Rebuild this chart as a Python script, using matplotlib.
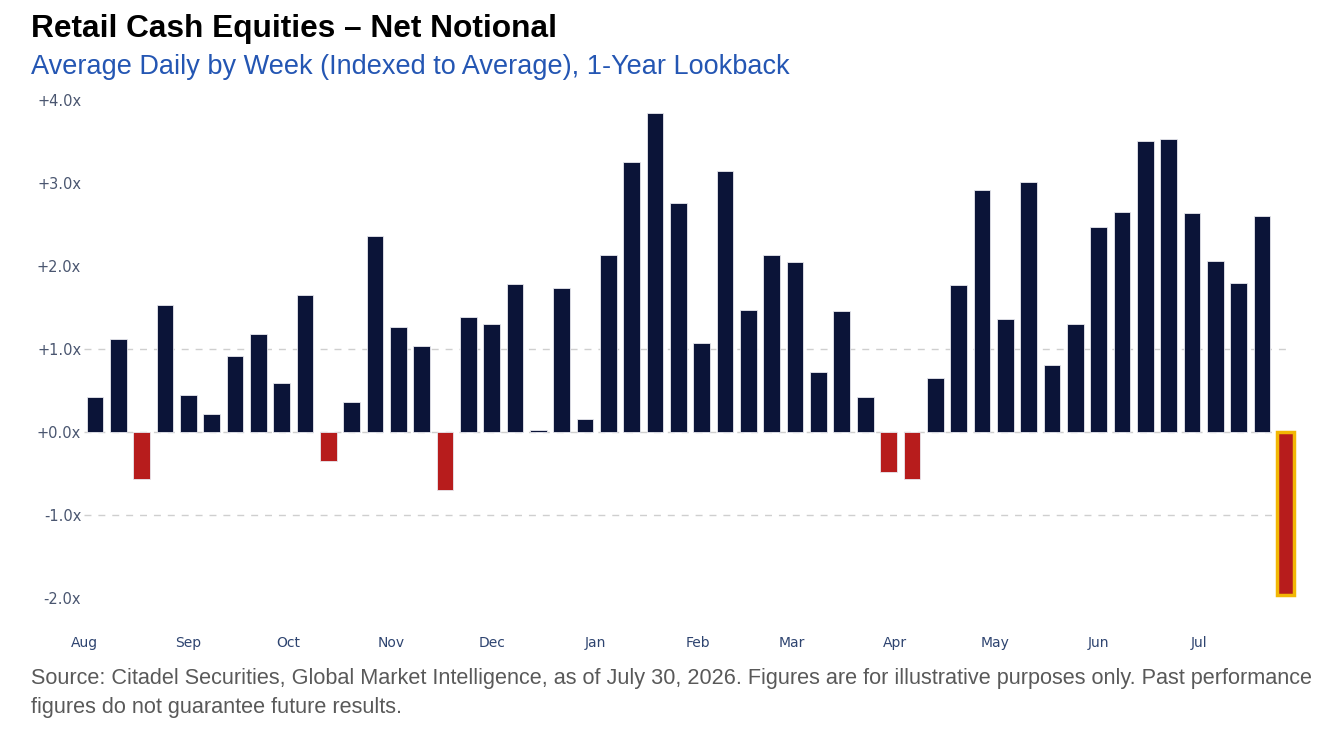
import matplotlib
matplotlib.use("Agg")
import matplotlib.pyplot as plt
import pandas as pd

# weekly values, indexed to average
values = [0.43, 1.12, -0.56, 1.53, 0.45, 0.22, 0.92, 1.18, 0.59, 1.65,
          -0.35, 0.36, 2.36, 1.27, 1.04, -0.70, 1.39, 1.31, 1.78, 0.03,
          1.74, 0.16, 2.13, 3.26, 3.85, 2.76, 1.08, 3.15, 1.47, 2.14,
          2.05, 0.73, 1.46, 0.42, -0.48, -0.56, 0.65, 1.77, 2.92, 1.36,
          3.01, 0.81, 1.30, 2.47, 2.65, 3.51, 3.53, 2.64, 2.06, 1.80,
          2.61, -1.96]
weeks = pd.date_range("2025-08-04", periods=len(values), freq="7D")

ytick_vals = [4, 3, 2, 1, 0, -1, -2]
ytick_labels = ["+4.0x", "+3.0x", "+2.0x", "+1.0x", "+0.0x", "-1.0x", "-2.0x"]
month_ticks = pd.date_range("2025-08-01", "2026-07-01", freq="MS")
month_labels = [d.strftime("%b") for d in month_ticks]
grid_levels = [1, 0, -1]

NAVY = "#0b1438"
RED = "#b71c1c"
GOLD = "#f2b705"

fig = plt.figure(figsize=(13.44, 7.32), dpi=100)
ax = fig.add_axes([0.0625, 0.1544, 0.8951, 0.72])

colors = [NAVY if v >= 0 else RED for v in values]
bars = ax.bar(weeks, values, width=5, color=colors, edgecolor="#e8e8ee",
              linewidth=0.6, zorder=3, clip_on=False)
# highlight latest week
last = bars[-1]
last.set_edgecolor(GOLD)
last.set_linewidth(2.5)

for g in grid_levels:
    ax.axhline(g, color="#cfcfcf", lw=1, linestyle=(0, (5, 5)), zorder=1)

ax.set_ylim(-2.25, 4.1)
ax.set_xlim(pd.Timestamp("2025-07-31 18:00"), pd.Timestamp("2026-07-27 12:00"))
ax.set_yticks(ytick_vals)
ax.set_yticklabels(ytick_labels, fontsize=10.5, color="#4a5670",
                   family="DejaVu Sans")
ax.set_xticks(month_ticks)
ax.set_xticklabels(month_labels, fontsize=10, color="#2e4470",
                   family="DejaVu Sans")
ax.tick_params(axis="both", length=0)
ax.tick_params(axis="y", pad=2)
ax.tick_params(axis="x", pad=12.5)
for s in ax.spines.values():
    s.set_visible(False)

fig.text(31 / 1344, 1 - 37 / 732, "Retail Cash Equities \u2013 Net Notional",
         fontsize=22.8, fontweight="bold", color="black",
         family="Liberation Sans", va="baseline")
fig.text(31 / 1344, 1 - 74 / 732,
         "Average Daily by Week (Indexed to Average), 1-Year Lookback",
         fontsize=19.5, color="#2456b3", family="Liberation Sans",
         va="baseline")
fig.text(31 / 1344, 1 - 684 / 732,
         "Source: Citadel Securities, Global Market Intelligence, as of July 30, 2026. "
         "Figures are for illustrative purposes only. Past performance",
         fontsize=15.6, color="#595959", family="Liberation Sans", va="baseline")
fig.text(31 / 1344, 1 - 713 / 732,
         "figures do not guarantee future results.",
         fontsize=15.6, color="#595959", family="Liberation Sans", va="baseline")

fig.savefig("out.png", dpi=100, facecolor="white")
